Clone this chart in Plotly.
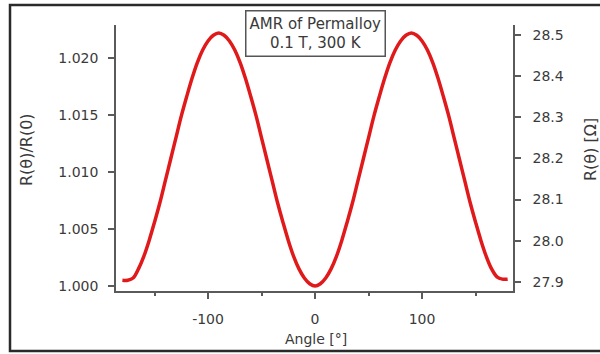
import plotly.graph_objects as go

angle_deg = [-180, -175, -170, -165, -160, -155, -150, -145, -140, -135, -130, -125, -120, -115, -110,
             -105, -100, -95, -90, -85, -80, -75, -70, -65, -60, -55, -50, -45, -40, -35, -30, -25, -20,
             -15, -10, -5, 0, 5, 10, 15, 20, 25, 30, 35, 40, 45, 50, 55, 60, 65, 70, 75, 80, 85, 90,
             95, 100, 105, 110, 115, 120, 125, 130, 135, 140, 145, 150, 155, 160, 165, 170, 175, 180]
ratio = [1.0005, 1.0005, 1.0007, 1.0015, 1.0026, 1.0040, 1.0056, 1.0073, 1.0092, 1.0111, 1.0130,
         1.0149, 1.0166, 1.0182, 1.0196, 1.0207, 1.0215, 1.0220, 1.0222, 1.0220, 1.0215, 1.0207,
         1.0196, 1.0182, 1.0166, 1.0149, 1.0130, 1.0111, 1.0092, 1.0073, 1.0056, 1.0040, 1.0026,
         1.0015, 1.0007, 1.0002, 1.0000, 1.0002, 1.0007, 1.0015, 1.0026, 1.0040, 1.0056, 1.0073,
         1.0092, 1.0111, 1.0130, 1.0149, 1.0166, 1.0182, 1.0196, 1.0207, 1.0215, 1.0220, 1.0222,
         1.0220, 1.0215, 1.0207, 1.0196, 1.0182, 1.0166, 1.0149, 1.0130, 1.0111, 1.0092, 1.0073,
         1.0056, 1.0040, 1.0026, 1.0015, 1.0008, 1.0006, 1.0006]
R0_ohm = 27.89
left_ticks = [1.000, 1.005, 1.010, 1.015, 1.020]
left_ticklabels = ["1.000", "1.005", "1.010", "1.015", "1.020"]
right_ticks = [27.9, 28.0, 28.1, 28.2, 28.3, 28.4, 28.5]
right_ticklabels = ["27.9", "28.0", "28.1", "28.2", "28.3", "28.4", "28.5"]
x_ticks = [-100, 0, 100]
x_ticklabels = ["-100", "0", "100"]
x_minor_ticks = [-150, -50, 50, 150]

W, H = 600, 354
L, R, T, B = 116, 87, 25, 63
pw, ph = W - L - R, H - T - B

def px(x):
    return (x - L) / pw

def py(y):
    return (H - B - y) / ph

axis_col = "#5a5a5a"
txt_col = "#3a3a3a"
font_family = "DejaVu Sans, Verdana, sans-serif"

fig = go.Figure()
fig.add_trace(go.Scatter(x=angle_deg, y=ratio, mode="lines",
                         line=dict(color="#e0191b", width=3.5, shape="spline"),
                         showlegend=False, hoverinfo="skip"))
fig.add_trace(go.Scatter(x=angle_deg, y=[r * R0_ohm for r in ratio], mode="lines",
                         yaxis="y2", opacity=0, line=dict(width=0),
                         showlegend=False, hoverinfo="skip"))

fig.update_layout(
    width=W, height=H,
    margin=dict(l=L, r=R, t=T, b=B, autoexpand=False),
    paper_bgcolor="white", plot_bgcolor="white",
    font=dict(family=font_family, color=txt_col, size=14),
    xaxis=dict(range=[-186, 185], showgrid=False, zeroline=False,
               showline=True, linecolor=axis_col, linewidth=1.5,
               ticks="outside", ticklen=6, tickwidth=1.5, tickcolor=axis_col,
               tickvals=x_ticks, ticktext=x_ticklabels, ticklabelstandoff=8,
               tickfont=dict(size=14, color=txt_col),
               minor=dict(tickvals=x_minor_ticks, ticks="outside", ticklen=3,
                          tickwidth=1.5, tickcolor=axis_col)),
    yaxis=dict(range=[0.99956, 1.0229], showgrid=False, zeroline=False,
               showline=True, linecolor=axis_col, linewidth=1.5,
               ticks="outside", ticklen=6, tickwidth=1.5, tickcolor=axis_col,
               tickvals=left_ticks, ticktext=left_ticklabels, ticklabelstandoff=7,
               tickfont=dict(size=14, color=txt_col)),
    yaxis2=dict(range=[27.878, 28.524], overlaying="y", side="right", showgrid=False,
                zeroline=False, showline=True, linecolor=axis_col, linewidth=1.5,
                ticks="outside", ticklen=6, tickwidth=1.5, tickcolor=axis_col,
                tickvals=right_ticks, ticktext=right_ticklabels, ticklabelstandoff=9,
                tickfont=dict(size=14, color=txt_col)),
    annotations=[
        dict(text="AMR of Permalloy<br>0.1 T, 300 K", xref="x", yref="paper",
             x=0, y=py(33.5), xanchor="center", yanchor="middle", showarrow=False,
             font=dict(size=15, color=txt_col), bordercolor="#555555", borderwidth=1.5,
             borderpad=3, bgcolor="white", align="center"),
        dict(text="R(θ)/R(0)", xref="paper", yref="paper", x=px(26), y=py(150),
             xanchor="center", yanchor="middle", textangle=-90, showarrow=False,
             font=dict(size=16, color=txt_col)),
        dict(text="R(θ) [Ω]", xref="paper", yref="paper", x=px(590), y=py(150),
             xanchor="center", yanchor="middle", textangle=-90, showarrow=False,
             font=dict(size=16, color=txt_col)),
        dict(text="Angle [°]", xref="paper", yref="paper", x=px(316), y=py(339),
             xanchor="center", yanchor="middle", showarrow=False,
             font=dict(size=14, color=txt_col)),
    ],
    shapes=[
        dict(type="rect", xref="paper", yref="paper",
             x0=px(10), x1=px(615), y0=py(351), y1=py(5),
             line=dict(color="#2a2a2a", width=2.5), fillcolor="rgba(0,0,0,0)", layer="above"),
    ],
)

fig.write_html("out.html", config={"displayModeBar": False},
               post_script="document.body.style.margin='0';document.body.style.overflow='hidden';")
